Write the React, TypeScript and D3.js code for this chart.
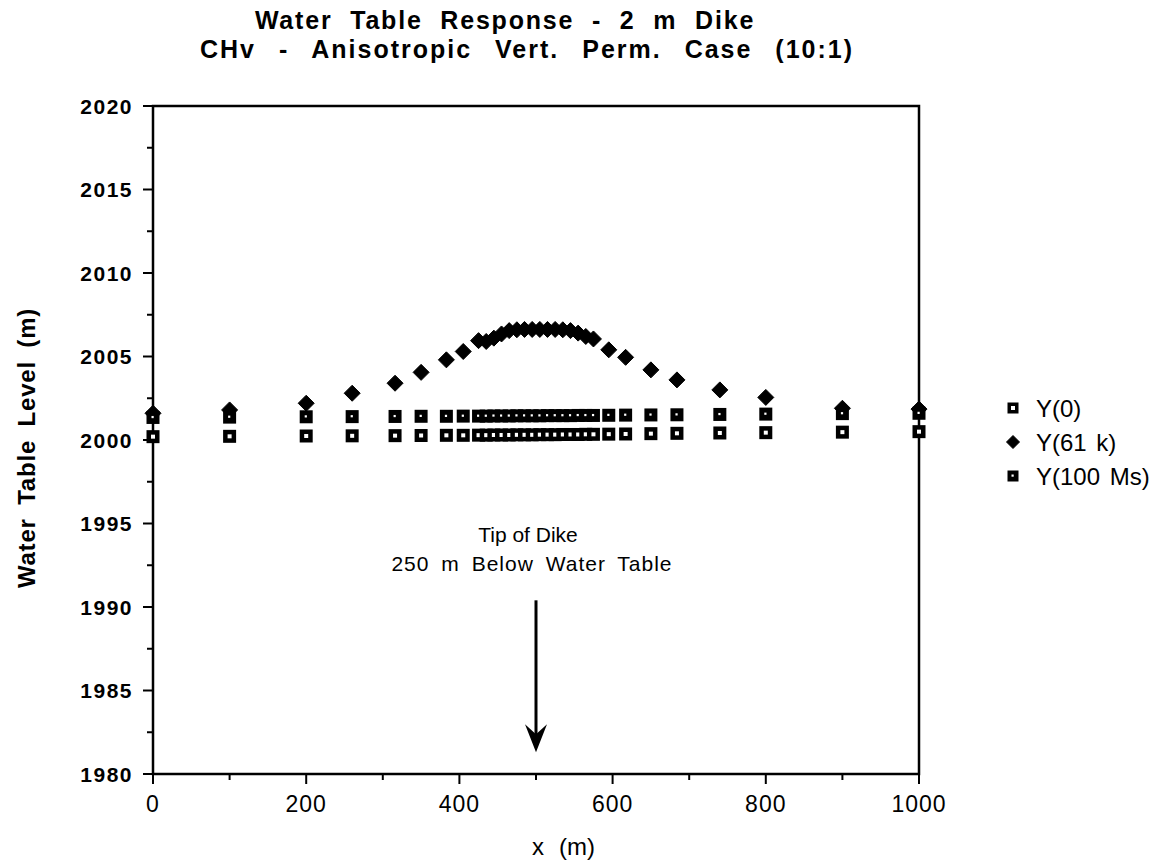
import React from "react";
import * as d3 from "d3";

// Node positions along the section (m)
const xNodes = [
  0, 100, 200, 260, 316, 350, 383, 405,
  425, 435, 445, 455, 465, 475, 485, 495, 505, 515, 525, 535, 545, 555, 565, 575,
  595, 617, 650, 684, 740, 800, 900, 1000,
];

// Water table level at t = 0
const yInitial = [
  2000.2, 2000.22, 2000.24, 2000.25, 2000.26, 2000.27, 2000.28, 2000.28,
  2000.29, 2000.29, 2000.3, 2000.3, 2000.3, 2000.31, 2000.31, 2000.31, 2000.32, 2000.32,
  2000.32, 2000.33, 2000.33, 2000.33, 2000.34, 2000.34,
  2000.35, 2000.36, 2000.38, 2000.4, 2000.42, 2000.44, 2000.47, 2000.5,
];

// Water table level at 61 k
const y61k = [
  2001.6, 2001.8, 2002.2, 2002.8, 2003.4, 2004.05, 2004.8, 2005.3,
  2005.95, 2005.9, 2006.1, 2006.35, 2006.55, 2006.6, 2006.62, 2006.62, 2006.62, 2006.62,
  2006.62, 2006.6, 2006.55, 2006.4, 2006.2, 2006.05,
  2005.4, 2004.95, 2004.2, 2003.6, 2003.0, 2002.55, 2001.9, 2001.85,
];

// Water table level at 100 Ms
const y100Ms = [
  2001.35, 2001.37, 2001.39, 2001.4, 2001.41, 2001.42, 2001.42, 2001.43,
  2001.43, 2001.43, 2001.44, 2001.44, 2001.44, 2001.45, 2001.45, 2001.45, 2001.45, 2001.46,
  2001.46, 2001.46, 2001.46, 2001.47, 2001.47, 2001.47,
  2001.48, 2001.49, 2001.5, 2001.51, 2001.53, 2001.55, 2001.58, 2001.6,
];

const xMajorTicks = [0, 200, 400, 600, 800, 1000];
const xMinorTicks = [100, 300, 500, 700, 900];
const yMajorTicks = [1980, 1985, 1990, 1995, 2000, 2005, 2010, 2015, 2020];
const yMinorTicks = [1982.5, 1987.5, 1992.5, 1997.5, 2002.5, 2007.5, 2012.5, 2017.5];

const legendLabels = ["Y(0)", "Y(61 k)", "Y(100 Ms)"];

// Dike tip annotation (x position and arrow extent in data units)
const dikeX = 500;
const arrowTop = 1990.4;
const arrowTip = 1981.3;

const FONT = "'Liberation Sans', Arial, Helvetica, sans-serif";
const W = 1175;
const H = 863;

const SQ = 13;

function OpenSquare({ cx, cy, s = SQ }: { cx: number; cy: number; s?: number }) {
  return (
    <g>
      <rect x={cx - s / 2} y={cy - s / 2} width={s} height={s} fill="#000" />
      <rect x={cx - 2} y={cy - 2} width={4} height={4} fill="#fff" />
    </g>
  );
}

function DotSquare({ cx, cy, s = SQ }: { cx: number; cy: number; s?: number }) {
  return (
    <g>
      <rect x={cx - s / 2} y={cy - s / 2} width={s} height={s} fill="#000" />
      <rect x={cx - 1.5} y={cy - 1.5} width={2.2} height={2.2} fill="#fff" />
    </g>
  );
}

function Diamond({ cx, cy, r = 8 }: { cx: number; cy: number; r?: number }) {
  return (
    <path
      d={`M${cx},${cy - r}L${cx + r},${cy}L${cx},${cy + r}L${cx - r},${cy}Z`}
      fill="#000"
      stroke="#000"
      strokeWidth={1}
      strokeLinejoin="round"
    />
  );
}

export default function App() {
  const x = d3.scaleLinear().domain([0, 1000]).range([153, 919]);
  const y = d3.scaleLinear().domain([1980, 2020]).range([774, 106]);

  const [x0, x1] = x.range();
  const [yb, yt] = y.range();

  const ax = x(dikeX);
  const aTop = y(arrowTop);
  const aTip = y(arrowTip);

  const legendX = 1013;
  const legendY = [408, 442, 476];

  return (
    <svg
      width={W}
      height={H}
      viewBox={`0 0 ${W} ${H}`}
      style={{ position: "absolute", left: 0, top: 0, background: "#fff" }}
      fontFamily={FONT}
    >
      <rect x={0} y={0} width={W} height={H} fill="#fff" />

      {/* Title */}
      <text x={505} y={29} textAnchor="middle" fontSize={25} fontWeight="bold" letterSpacing={1.8} wordSpacing={9}>
        Water Table Response - 2 m Dike
      </text>
      <text x={527} y={58} textAnchor="middle" fontSize={25} fontWeight="bold" letterSpacing={2} wordSpacing={14}>
        CHv - Anisotropic Vert. Perm. Case (10:1)
      </text>

      {/* Frame */}
      <rect x={x0} y={yt} width={x1 - x0} height={yb - yt} fill="none" stroke="#000" strokeWidth={2.5} />

      {/* Y ticks */}
      {yMajorTicks.map((t) => (
        <g key={`ym${t}`}>
          <line x1={x0 - 10} x2={x0} y1={y(t)} y2={y(t)} stroke="#000" strokeWidth={2} />
          <text
            x={133}
            y={y(t)}
            dy="0.36em"
            textAnchor="end"
            fontSize={21}
            fontWeight="bold"
            letterSpacing={1.5}
          >
            {t}
          </text>
        </g>
      ))}
      {yMinorTicks.map((t) => (
        <line key={`yn${t}`} x1={x0 - 6} x2={x0} y1={y(t)} y2={y(t)} stroke="#000" strokeWidth={2} />
      ))}

      {/* X ticks */}
      {xMajorTicks.map((t) => (
        <g key={`xm${t}`}>
          <line x1={x(t)} x2={x(t)} y1={yb} y2={yb + 10} stroke="#000" strokeWidth={2} />
          <text x={x(t)} y={812} textAnchor="middle" fontSize={23} letterSpacing={1}>
            {t}
          </text>
        </g>
      ))}
      {xMinorTicks.map((t) => (
        <line key={`xn${t}`} x1={x(t)} x2={x(t)} y1={yb} y2={yb + 6} stroke="#000" strokeWidth={2} />
      ))}

      {/* Axis titles */}
      <text
        transform={`translate(35,448) rotate(-90)`}
        textAnchor="middle"
        fontSize={24}
        fontWeight="bold"
        letterSpacing={0.8}
        wordSpacing={6}
      >
        Water Table Level (m)
      </text>
      <text x={538} y={855} textAnchor="middle" fontSize={24}>
        x
      </text>
      <text x={577} y={855} textAnchor="middle" fontSize={24}>
        (m)
      </text>

      {/* Series markers */}
      <g>
        {xNodes.map((d, i) => (
          <OpenSquare key={`a${i}`} cx={x(d)} cy={y(yInitial[i])} />
        ))}
      </g>
      <g>
        {xNodes.map((d, i) => (
          <Diamond key={`b${i}`} cx={x(d)} cy={y(y61k[i])} />
        ))}
      </g>
      <g>
        {xNodes.map((d, i) => (
          <DotSquare key={`c${i}`} cx={x(d)} cy={y(y100Ms[i])} />
        ))}
      </g>

      {/* Dike annotation */}
      <text x={528} y={542} textAnchor="middle" fontSize={21}>
        Tip of Dike
      </text>
      <text x={532} y={571} textAnchor="middle" fontSize={21} letterSpacing={1} wordSpacing={5}>
        250 m Below Water Table
      </text>
      <line x1={ax} x2={ax} y1={aTop} y2={aTip - 14} stroke="#000" strokeWidth={3} />
      <path
        d={`M${ax},${aTip}L${ax - 11},${aTip - 28}L${ax},${aTip - 18}L${ax + 11},${aTip - 28}Z`}
        fill="#000"
      />

      {/* Legend */}
      <g>
        <OpenSquare cx={legendX} cy={legendY[0]} s={11} />
        <Diamond cx={legendX} cy={legendY[1]} r={6.5} />
        <DotSquare cx={legendX} cy={legendY[2]} s={11} />
        {legendLabels.map((l, i) => (
          <text key={l} x={1036} y={legendY[i]} dy="0.36em" fontSize={24} wordSpacing={3}>
            {l}
          </text>
        ))}
      </g>
    </svg>
  );
}
